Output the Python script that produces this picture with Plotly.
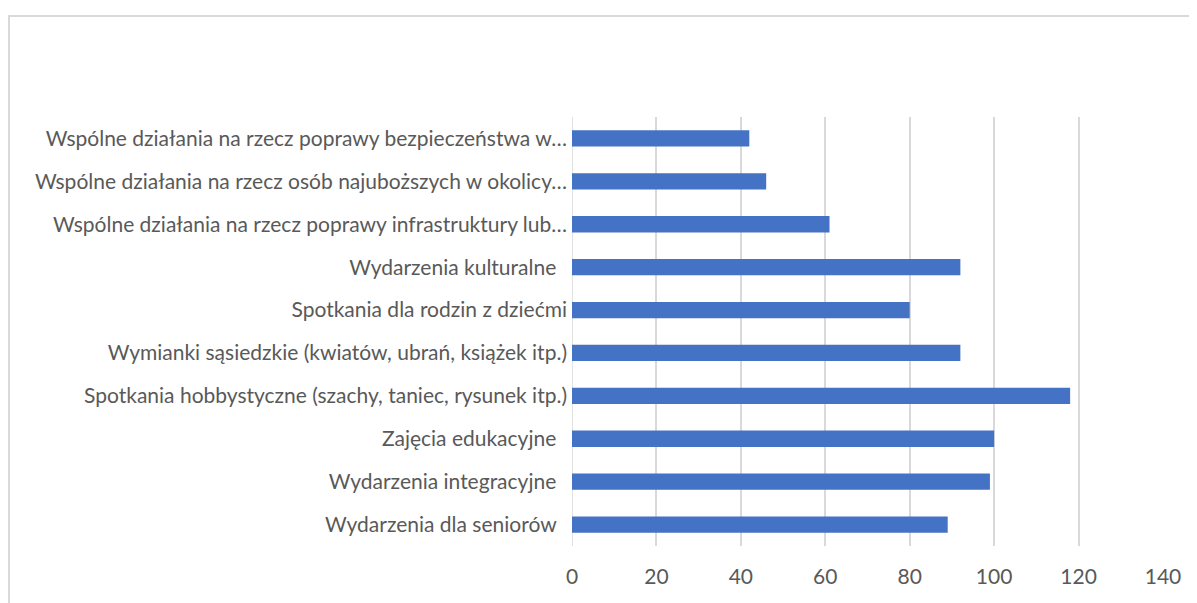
import plotly.graph_objects as go

categories = [
    "Wydarzenia dla seniorów\u00a0\u00a0",
    "Wydarzenia integracyjne\u00a0\u00a0",
    "Zajęcia edukacyjne\u00a0\u00a0",
    "Spotkania hobbystyczne (szachy, taniec, rysunek itp.)",
    "Wymianki sąsiedzkie (kwiatów, ubrań, książek itp.)",
    "Spotkania dla rodzin z dziećmi",
    "Wydarzenia kulturalne\u00a0\u00a0",
    "Wspólne działania na rzecz poprawy infrastruktury lub…",
    "Wspólne działania na rzecz osób najuboższych w okolicy…",
    "Wspólne działania na rzecz poprawy bezpieczeństwa w…",
]
values = [89, 99, 100, 118, 92, 80, 92, 61, 46, 42]
x_ticks = [0, 20, 40, 60, 80, 100, 120, 140]

W, H = 1189, 595
L, R, T, B = 564, 34, 109, 57
pw, ph = W - L - R, H - T - B

fig = go.Figure(go.Bar(
    x=values, y=categories, orientation="h",
    marker=dict(color="#4472C4", line=dict(width=0)),
))

fig.update_layout(
    width=W, height=H,
    margin=dict(l=L, r=R, t=T, b=B, autoexpand=False),
    paper_bgcolor="white", plot_bgcolor="white",
    bargap=0.62,
    showlegend=False,
    font=dict(family="Lato", color="#595959", size=21),
    xaxis=dict(
        range=[0, 140], tickvals=x_ticks, showgrid=True,
        gridcolor="#d9d9d9", gridwidth=1.5, zeroline=False,
        showline=False, ticks="", ticklabelstandoff=16,
        tickfont=dict(size=21, color="#595959"),
    ),
    yaxis=dict(
        type="category", categoryorder="array", categoryarray=categories,
        showgrid=False, zeroline=False, showline=False, ticks="",
        ticklabelstandoff=4, tickfont=dict(size=21, color="#595959"),
    ),
    shapes=[
        dict(type="line", xref="paper", yref="paper",
             x0=(0 - L) / pw, x1=(W + 10 - L) / pw,
             y0=1 + (T - 8) / ph, y1=1 + (T - 8) / ph,
             line=dict(color="#d9d9d9", width=2)),
        dict(type="line", xref="paper", yref="paper",
             x0=(1 - L) / pw, x1=(1 - L) / pw,
             y0=1 + (T - 8) / ph, y1=-(H + 10 - T - ph) / ph,
             line=dict(color="#d9d9d9", width=2)),
        dict(type="line", xref="x", yref="paper",
             x0=0, x1=0, y0=0, y1=1,
             line=dict(color="#d9d9d9", width=1.5), layer="below"),
    ],
)

fig.write_html("out.html")
